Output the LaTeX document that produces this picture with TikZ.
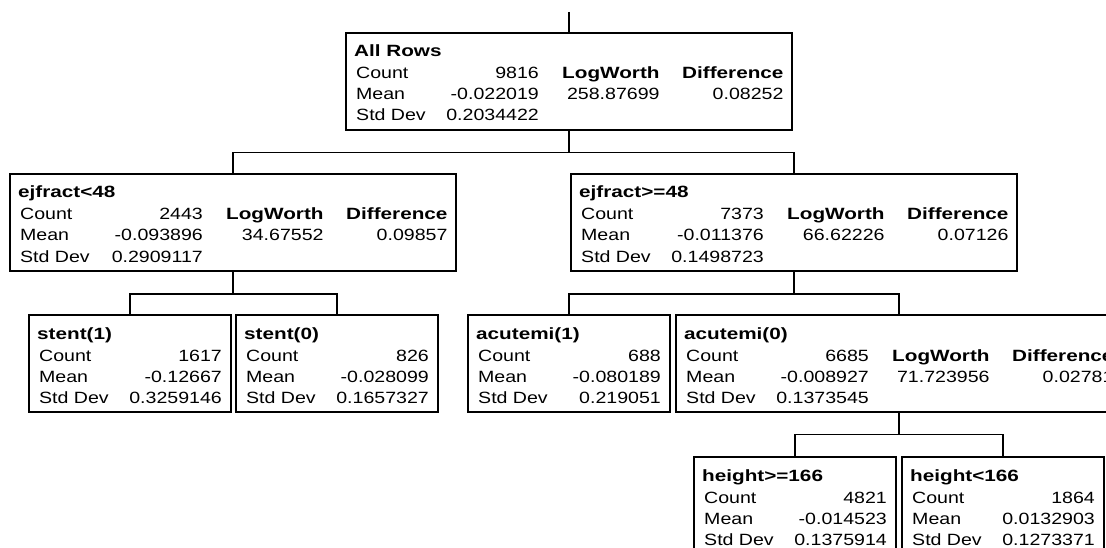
\documentclass[tikz,border=0pt]{standalone}
\usepackage{fontspec}
\setmainfont{Liberation Sans}[FakeStretch=1.2]
\newfontfamily\hdrfont{Liberation Sans}[FakeStretch=1.27]
\usetikzlibrary{calc}
\tikzset{
  x=1pt, y=1pt,
  treebox/.style={draw=black, line width=1.4pt, rectangle, inner sep=0pt, outer sep=0pt, anchor=north west, minimum height=97pt},
  widebox/.style={treebox, minimum width=446pt},
  narrowbox/.style={treebox, minimum width=202pt},
  lbl/.style={inner sep=0pt, anchor=base west, font=\fontsize{16.3}{19}\selectfont},
  val/.style={inner sep=0pt, anchor=base east, font=\fontsize{16.3}{19}\selectfont},
  ttl/.style={inner sep=0pt, anchor=base west, font=\hdrfont\bfseries\fontsize{16.3}{19}\selectfont},
  conn/.style={draw=black, line width=1.4pt},
}
% name, x, y, title, count, mean, sd  (texts only)
\newcommand{\treetexts}[7]{%
  \node[ttl] (#1-t) at (#2+8,-#3-24) {#4};
  \node[lbl] (#1-cl) at (#2+10,-#3-46) {Count};
  \node[lbl] (#1-ml) at (#2+10,-#3-67) {Mean};
  \node[lbl] (#1-sl) at (#2+10,-#3-88) {Std Dev};
  \node[val] (#1-cv) at (#2+193,-#3-46) {#5};
  \node[val] (#1-mv) at (#2+193,-#3-67) {#6};
  \node[val] (#1-sv) at (#2+193,-#3-88) {#7};
}
\newcommand{\narrowtree}[7]{%
  \node[narrowbox] (#1) at (#2,-#3) {};
  \treetexts{#1}{#2}{#3}{#4}{#5}{#6}{#7}%
}
% name, x, y, title, count, mean, sd, logworth, difference
\newcommand{\widetree}[9]{%
  \node[widebox] (#1) at (#2,-#3) {};
  \treetexts{#1}{#2}{#3}{#4}{#5}{#6}{#7}%
  \node[ttl] (#1-lwh) at (#2+216,-#3-46) {LogWorth};
  \node[val] (#1-lwv) at ($(#1-lwh.base east)+(0,-21)$) {#8};
  \node[ttl] (#1-dfh) at (#2+336,-#3-46) {Difference};
  \node[val] (#1-dfv) at ($(#1-dfh.base east)+(0,-21)$) {#9};
}
\begin{document}
\begin{tikzpicture}
\useasboundingbox (0,0) rectangle (1106,-548);
\fill[white] (0,0) rectangle (1106,-548);
\clip (0,0) rectangle (1106,-548);

\widetree{allrows}{346}{33}{All Rows}{9816}{-0.022019}{0.2034422}{258.87699}{0.08252}
\widetree{ejlt}{10}{174}{ejfract<48}{2443}{-0.093896}{0.2909117}{34.67552}{0.09857}
\widetree{ejge}{571}{174}{ejfract>=48}{7373}{-0.011376}{0.1498723}{66.62226}{0.07126}
\narrowtree{stenta}{29}{315}{stent(1)}{1617}{-0.12667}{0.3259146}
\narrowtree{stentb}{236}{315}{stent(0)}{826}{-0.028099}{0.1657327}
\narrowtree{acutea}{468}{315}{acutemi(1)}{688}{-0.080189}{0.219051}
\widetree{acuteb}{676}{315}{acutemi(0)}{6685}{-0.008927}{0.1373545}{71.723956}{0.02781}
\narrowtree{hta}{694}{457}{height>=166}{4821}{-0.014523}{0.1375914}
\narrowtree{htb}{902}{457}{height<166}{1864}{0.0132903}{0.1273371}

\coordinate (top) at (569,-12);
\draw[conn] (top) -- (allrows.north);
\draw[conn] (allrows.south) -- ++(0,-22.5) coordinate (j1);
\draw[conn] (ejlt.north) |- (j1) -| (ejge.north);
\draw[conn] (ejlt.south) -- ++(0,-23) coordinate (j2);
\draw[conn] (stenta.north) |- (j2) -| (stentb.north);
\draw[conn] (ejge.south) -- ++(0,-23) coordinate (j3);
\draw[conn] (acutea.north) |- (j3) -| (acuteb.north);
\draw[conn] (acuteb.south) -- ++(0,-22.5) coordinate (j4);
\draw[conn] (hta.north) |- (j4) -| (htb.north);
\end{tikzpicture}
\end{document}
